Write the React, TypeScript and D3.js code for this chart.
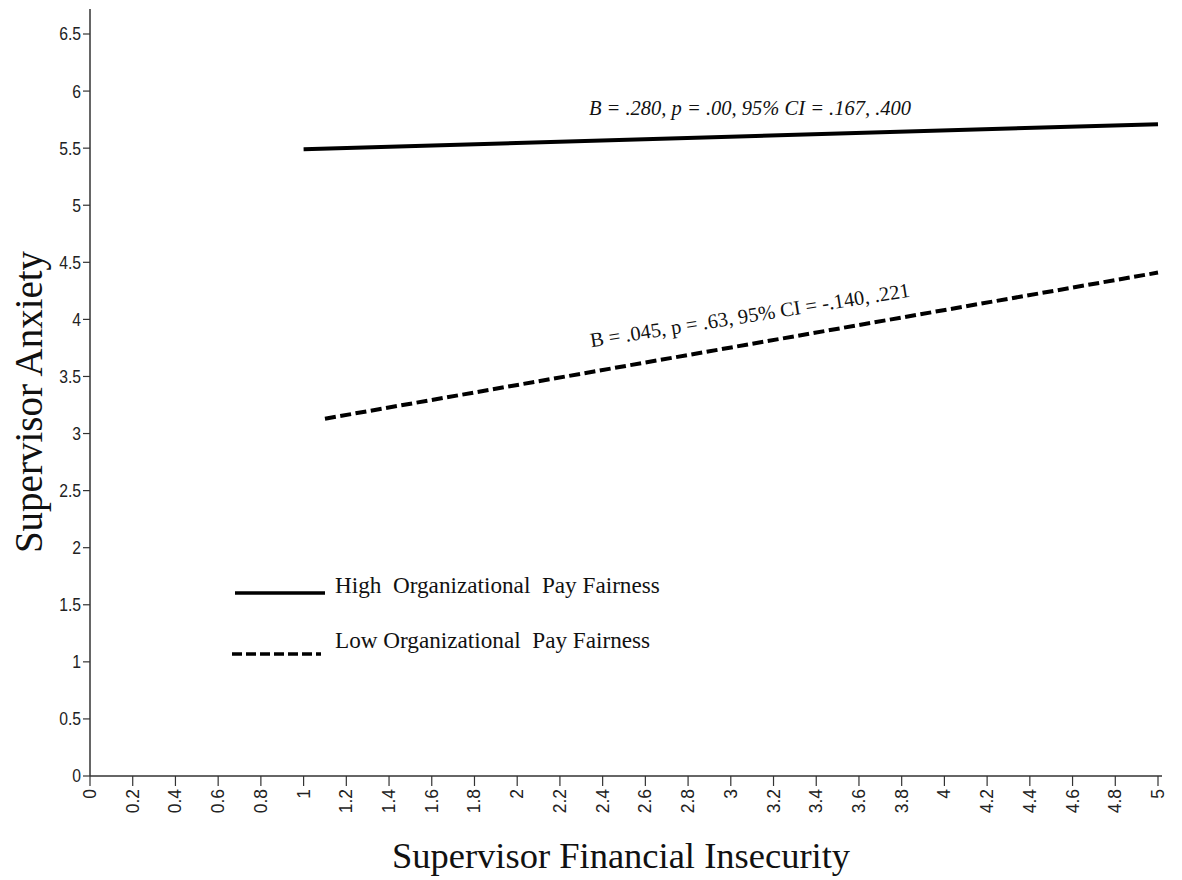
import React from "react";
import * as d3 from "d3";

const xTicks = [0, 0.2, 0.4, 0.6, 0.8, 1, 1.2, 1.4, 1.6, 1.8, 2, 2.2, 2.4, 2.6, 2.8, 3, 3.2, 3.4, 3.6, 3.8, 4, 4.2, 4.4, 4.6, 4.8, 5];
const yTicks = [0, 0.5, 1, 1.5, 2, 2.5, 3, 3.5, 4, 4.5, 5, 5.5, 6, 6.5];
const highX = [1.0, 5.0];
const highY = [5.49, 5.71];
const lowX = [1.1, 5.0];
const lowY = [3.13, 4.41];
const highLabel = "B = .280, p = .00, 95% CI = .167, .400";
const lowLabel = "B = .045, p = .63, 95% CI = -.140, .221";
const legendLabels = ["High  Organizational  Pay Fairness", "Low Organizational  Pay Fairness"];
const xTitle = "Supervisor Financial Insecurity";
const yTitle = "Supervisor Anxiety";

const W = 1182;
const H = 880;
const serif = "'Liberation Serif', 'Times New Roman', serif";
const sans = "'Liberation Sans', Arial, sans-serif";

export default function App() {
  const x = d3.scaleLinear().domain([0, 5]).range([90, 1158]);
  const y = d3.scaleLinear().domain([0, 6.5]).range([776, 34]);
  const line = d3.line<[number, number]>().x((d) => x(d[0])).y((d) => y(d[1]));
  const highPts: [number, number][] = highX.map((v, i) => [v, highY[i]]);
  const lowPts: [number, number][] = lowX.map((v, i) => [v, lowY[i]]);

  return (
    <svg width={W} height={H} style={{ position: "absolute", left: 0, top: 0, background: "#fff" }}>
      {/* axes */}
      <line x1={x(0)} x2={x(0)} y1={y(0)} y2={9} stroke="#333" strokeWidth={1.5} />
      <line x1={x(0)} x2={1162} y1={y(0)} y2={y(0)} stroke="#333" strokeWidth={1.5} />
      {yTicks.map((t) => (
        <g key={"y" + t}>
          <line x1={x(0) - 7} x2={x(0)} y1={y(t)} y2={y(t)} stroke="#333" strokeWidth={1.2} />
          <text
            transform={`translate(${x(0) - 9},${y(t)}) scale(0.85,1)`}
            textAnchor="end"
            dominantBaseline="central"
            fontFamily={sans}
            fontSize={18.5}
            fill="#222"
          >
            {String(t)}
          </text>
        </g>
      ))}
      {xTicks.map((t) => (
        <g key={"x" + t}>
          <line x1={x(t)} x2={x(t)} y1={y(0)} y2={y(0) + 10} stroke="#333" strokeWidth={1.2} />
          <text
            transform={`translate(${x(t)},${y(0) + 13}) rotate(-90)`}
            textAnchor="end"
            dominantBaseline="central"
            fontFamily={sans}
            fontSize={17.5}
            fill="#222"
          >
            {String(t)}
          </text>
        </g>
      ))}
      {/* lines */}
      <path d={line(highPts) || ""} fill="none" stroke="#000" strokeWidth={4} />
      <path d={line(lowPts) || ""} fill="none" stroke="#000" strokeWidth={4} strokeDasharray="11,4.5" />
      {/* annotations */}
      <text x={750} y={115} textAnchor="middle" fontFamily={serif} fontStyle="italic" fontSize={20.5} fill="#111">
        {highLabel}
      </text>
      <text
        transform={`translate(751,322) rotate(-9)`}
        textAnchor="middle"
        fontFamily={serif}
        fontSize={20.5}
        fill="#111"
      >
        {lowLabel}
      </text>
      {/* legend */}
      <line x1={235} x2={325} y1={593} y2={593} stroke="#000" strokeWidth={3.5} />
      <line x1={232} x2={321} y1={654} y2={654} stroke="#000" strokeWidth={3.5} strokeDasharray="10,4" />
      <text x={335} y={593} fontFamily={serif} fontSize={23.2} fill="#111" style={{ whiteSpace: "pre" }}>
        {legendLabels[0]}
      </text>
      <text x={335} y={648} fontFamily={serif} fontSize={23.2} fill="#111" style={{ whiteSpace: "pre" }}>
        {legendLabels[1]}
      </text>
      {/* titles */}
      <text x={621} y={868} textAnchor="middle" fontFamily={serif} fontSize={36.5} fill="#111">
        {xTitle}
      </text>
      <text
        transform={`translate(42,402) rotate(-90)`}
        textAnchor="middle"
        fontFamily={serif}
        fontSize={39}
        fill="#111"
      >
        {yTitle}
      </text>
    </svg>
  );
}
